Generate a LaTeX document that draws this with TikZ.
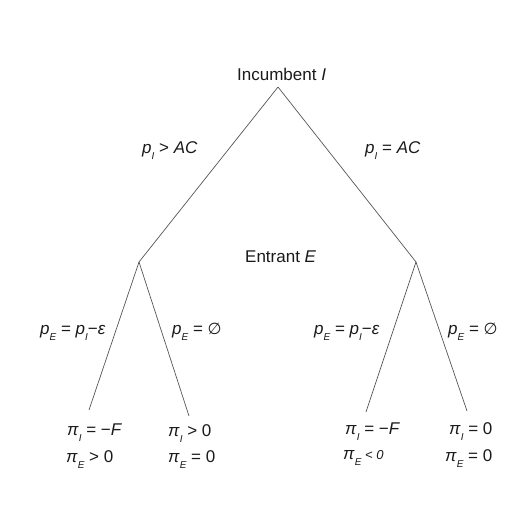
\documentclass[tikz,border=0pt]{standalone}
\usepackage{fontspec}
\setmainfont{Liberation Sans}
\newfontfamily\symfont{DejaVu Sans}
\usepackage{tikz}
\usepackage{xcolor}

\definecolor{ink}{HTML}{1A1A1A}
\definecolor{branchgray}{HTML}{555555}
\newcommand{\lo}[1]{\raisebox{-6pt}{\fontsize{10}{10}\selectfont\itshape #1}}
\newcommand{\noentry}{{\symfont\fontsize{16}{16}\selectfont ∅}}

\tikzset{
  lbl/.style={anchor=base west, inner sep=0pt, text=ink, font=\fontsize{17}{20}\selectfont},
  leaf/.style={lbl},
  branch/.style={draw=branchgray, line width=0.7pt},
}

\begin{document}
\begin{tikzpicture}[x=1pt,y=-1pt]
\useasboundingbox (0,0) rectangle (532,508);
% decision points
\coordinate (inc) at (278,87);
\coordinate (entL) at (139,262);
\coordinate (entR) at (416,262);
\coordinate (endLL) at (89,410);
\coordinate (endLR) at (189,416);
\coordinate (endRL) at (366,412);
\coordinate (endRR) at (467,411);

% Incumbent move
\node[lbl] (incname) at (237,81) {Incumbent \textit{I}};
\draw[branch] (inc) -- (entL);
\draw[branch] (inc) -- (entR);
\node[lbl] (pIhigh) at (142,153) {\textit{p}\lo{I} > \textit{AC}};
\node[lbl] (pIeq) at (365,153) {\textit{p}\lo{I} = \textit{AC}};

% Entrant move
\node[lbl] (entname) at (245,262) {Entrant \textit{E}};
\draw[branch] (entL) -- (endLL);
\draw[branch] (entL) -- (endLR);
\draw[branch] (entR) -- (endRL);
\draw[branch] (entR) -- (endRR);
\node[lbl] (pEundL) at (40,334) {\textit{p}\lo{E} = \textit{p}\lo{I}−\textit{ε}};
\node[lbl] (pEnoL) at (172,334) {\textit{p}\lo{E} = \noentry};
\node[lbl] (pEundR) at (314,334) {\textit{p}\lo{E} = \textit{p}\lo{I}−\textit{ε}};
\node[lbl] (pEnoR) at (448,334) {\textit{p}\lo{E} = \noentry};

% Payoffs
\node[leaf] (piLLI) at (67,435) {\textit{π}\lo{I} = −\textit{F}};
\node[leaf] (piLLE) at (66,462) {\textit{π}\lo{E} > 0};
\node[leaf] (piLRI) at (168,436) {\textit{π}\lo{I} > 0};
\node[leaf] (piLRE) at (168,462) {\textit{π}\lo{E} = 0};
\node[leaf] (piRLI) at (345,434) {\textit{π}\lo{I} = −\textit{F}};
\node[leaf] (piRLE) at (343,459) {\textit{π}\lo{E}{\fontsize{13}{13}\selectfont\itshape~< 0}};
\node[leaf] (piRRI) at (449,434) {\textit{π}\lo{I} = 0};
\node[leaf] (piRRE) at (445,461) {\textit{π}\lo{E} = 0};
\end{tikzpicture}
\end{document}
